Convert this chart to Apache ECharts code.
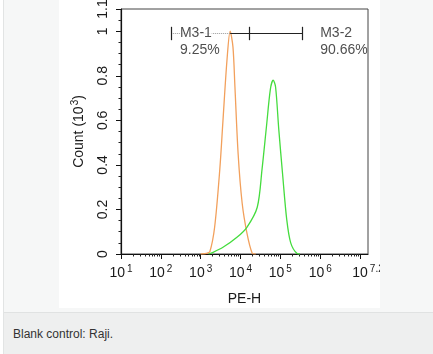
<!DOCTYPE html>
<html>
<head>
<meta charset="utf-8">
<script src="https://cdn.jsdelivr.net/npm/echarts@6/dist/echarts.min.js"></script>
<style>
  html, body { margin: 0; padding: 0; width: 433px; height: 354px; overflow: hidden; background: #fff; }
  .frame { position: absolute; left: 3px; top: 0; width: 430px; height: 354px; border-left: 1px solid #e2e4e4; background: #f6f7f7; }
  #chart { position: absolute; left: 55px; top: 0; width: 321px; height: 308px; background: #fff; }
  .caption { position: absolute; left: 0; top: 312px; width: 430px; height: 42px; background: #eeefef; border-top: 1px solid #e0e2e2;
             font-family: "Liberation Sans", Arial, sans-serif; font-size: 12px; color: #333; line-height: 42px; padding-left: 9px; box-sizing: border-box; }
</style>
</head>
<body>
<div class="frame">
  <div id="chart"></div>
  <div class="caption">Blank control: Raji.</div>
</div>
<script>
// x values are log10(PE-H)
const orangeX = [3.00, 3.15, 3.23, 3.35, 3.48, 3.56, 3.66, 3.74, 3.81, 3.86, 3.94, 4.04, 4.16, 4.29, 4.38];
const orangeY = [0, 0.003, 0.01, 0.12, 0.38, 0.60, 0.87, 1.0, 0.93, 0.75, 0.45, 0.23, 0.095, 0.005, 0];
const greenX = [3.20, 3.28, 3.56, 3.91, 4.16, 4.42, 4.54, 4.65, 4.75, 4.82, 4.88, 4.96, 5.06, 5.16, 5.26, 5.42, 5.49];
const greenY = [0, 0.005, 0.03, 0.075, 0.12, 0.21, 0.38, 0.57, 0.74, 0.78, 0.75, 0.56, 0.35, 0.155, 0.05, 0.002, 0];

const gateTicks = [2.26, 4.22, 5.55];
const gateY = 0.99;
const gateLabels = [
  { x: 2.48, y: 0.955, name: 'M3-1', pct: '9.25%' },
  { x: 6.0, y: 0.955, name: 'M3-2', pct: '90.66%' }
];

const xMajor = [1, 2, 3, 4, 5, 6, 7];
const xLabels = [1, 2, 3, 4, 5, 6, 7.2];
const xMinor = [];
for (let d = 1; d < 7.2; d++) {
  for (let k = 2; k <= 9; k++) {
    const v = d + Math.log10(k);
    if (v < 7.2) xMinor.push(v);
  }
}

const font = '"Liberation Sans", Arial, sans-serif';
const chart = echarts.init(document.getElementById('chart'));

const pair = (xs, ys) => xs.map((x, i) => [x, ys[i]]);
const sup = { fontSize: 10, verticalAlign: 'top', padding: [0, 0, 9, 2], color: '#1a1a1a' };

chart.setOption({
  animation: false,
  textStyle: { fontFamily: font },
  grid: { left: 62, right: 12, top: 9, bottom: 54, outerBoundsMode: 'none', show: true, borderColor: '#444', borderWidth: 1 },
  xAxis: [
    {
      type: 'value', min: 1, max: 7.2, position: 'bottom',
      axisLine: { lineStyle: { color: '#111', width: 1.2 } },
      axisTick: { customValues: xMajor, length: 5, lineStyle: { color: '#111' } },
      splitLine: { show: false },
      axisLabel: {
        customValues: xLabels, showMaxLabel: true, margin: 10, color: '#1a1a1a', fontSize: 14,
        formatter: v => '10{s|' + (Math.round(v * 10) / 10) + '}',
        rich: { s: sup }
      },
      name: 'PE-H', nameLocation: 'middle', nameGap: 38, nameTextStyle: { fontSize: 14, color: '#1a1a1a' }
    },
    {
      type: 'value', min: 1, max: 7.2, position: 'bottom', offset: 0,
      axisLine: { show: false },
      axisTick: { customValues: xMinor, length: 2.5, lineStyle: { color: '#222' } },
      axisLabel: { show: false }, splitLine: { show: false }
    }
  ],
  yAxis: {
    type: 'value', min: 0, max: 1.1, interval: 0.2,
    axisLine: { show: true, lineStyle: { color: '#111', width: 1.2 } },
    axisTick: { show: true, length: 5, lineStyle: { color: '#111' } },
    minorTick: { show: true, splitNumber: 4, length: 2.5, lineStyle: { color: '#222' } },
    splitLine: { show: false },
    axisLabel: { rotate: 90, margin: 11, color: '#1a1a1a', fontSize: 14, showMaxLabel: true },
    name: 'Count (10{s|3})', nameLocation: 'middle', nameGap: 32,
    nameTextStyle: { fontSize: 14, color: '#1a1a1a', rich: { s: { fontSize: 10, verticalAlign: 'top', padding: [0, 0, 9, 1], color: '#1a1a1a' } } }
  },
  series: [
    {
      type: 'line', data: pair(orangeX, orangeY), smooth: 0.3, symbol: 'none',
      lineStyle: { color: '#f2a05c', width: 1.3 }
    },
    {
      type: 'line', data: pair(greenX, greenY), smooth: 0.3, symbol: 'none',
      lineStyle: { color: '#45dc3e', width: 1.3 }
    },
    {
      type: 'line', data: [], symbol: 'none',
      markLine: {
        silent: true, symbol: 'none', label: { show: false }, animation: false,
        data: [
          [{ coord: [gateTicks[0], gateY], lineStyle: { color: '#999', width: 1, type: 'dotted' } }, { coord: [3.74, gateY] }],
          [{ coord: [3.74, gateY], lineStyle: { color: '#222', width: 1.2, type: 'solid' } }, { coord: [gateTicks[2], gateY] }],
          ...gateTicks.map(x => [
            { coord: [x, gateY - 0.03], lineStyle: { color: '#222', width: 1.2, type: 'solid' } },
            { coord: [x, gateY + 0.03] }
          ])
        ]
      }
    },
    {
      type: 'scatter', symbolSize: 0, z: 5,
      data: gateLabels.map(g => ({ value: [g.x, g.y], name: g.name, pct: g.pct })),
      label: {
        show: true, position: 'right', distance: 0, color: '#222', fontSize: 14, lineHeight: 17,
        formatter: p => '{a|' + p.data.name + '}\n' + p.data.pct,
        rich: { a: { backgroundColor: '#fff', fontSize: 14, color: '#222', lineHeight: 17 } }
      }
    }
  ]
});
</script>
</body>
</html>
